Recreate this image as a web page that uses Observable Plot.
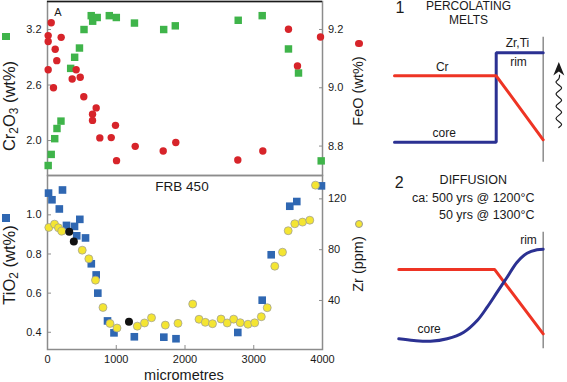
<!DOCTYPE html>
<html><head><meta charset="utf-8">
<script src="https://cdn.jsdelivr.net/npm/d3@7"></script>
<script src="https://cdn.jsdelivr.net/npm/@observablehq/plot@0.6"></script>
<style>
body{margin:0;background:#fff;}
#wrap{position:relative;width:567px;height:382px;overflow:hidden;background:#fff;font-family:"Liberation Sans",Arial,Helvetica,sans-serif;color:#1a1a1a;}
.t{position:absolute;white-space:nowrap;line-height:1;}
.t sub{font-size:0.72em;vertical-align:-0.25em;line-height:0;}
.mk{position:absolute;}
</style></head><body><div id="wrap"></div>
<script>
// ---------- data ----------
// Top panel: Cr2O3 (wt%), green squares, left axis
const crDist = [10,54,105,138,196,337,395,465,531,636,657,723,899,1001,1265,1690,1859,2774,3123,3505,3651,3981];
const crVal  = [1.73,1.85,2.02,2.13,2.21,2.78,2.90,3.00,3.20,3.35,3.29,3.33,3.35,3.33,3.27,3.20,3.24,3.30,3.35,2.99,2.73,1.78];
// Top panel: FeO (wt%), red circles, right axis
const feDist = [54,10,10,199,112,135,10,87,417,359,476,528,708,655,655,761,927,989,1004,1276,1683,1866,2768,3132,3505,3636,3971];
const feVal  = [9.223,9.179,9.159,9.173,9.132,9.093,9.062,9.000,9.062,9.030,9.036,8.969,8.931,8.909,8.888,8.828,8.829,8.871,8.750,8.799,8.783,8.812,8.752,8.783,9.201,9.075,9.174];
// Bottom panel: TiO2 (wt%), blue squares, left axis
const tiDist = [15,65,172,218,276,393,470,425,553,637,708,732,873,967,1263,1692,1869,2768,3123,3254,3524,3626,3985];
const tiVal  = [1.111,1.077,1.030,1.127,0.946,0.941,0.977,0.893,0.882,0.750,0.693,0.600,0.458,0.397,0.377,0.375,0.367,0.399,0.564,0.796,1.044,1.068,1.148];
// Bottom panel: Zr (ppm), yellow circles, right axis
const zrDist = [19,102,160,208,505,601,698,807,909,1011,1306,1411,1513,1714,1898,2112,2204,2295,2400,2524,2614,2708,2803,2916,3014,3110,3196,3306,3418,3501,3597,3709,3815,3898];
const zrVal  = [97.5,100.1,97.2,94.6,79.6,72.8,56.0,34.5,21.9,18.3,19.8,22.3,26.4,20.6,22.0,37.2,25.2,22.8,21.7,25.4,22.3,25.3,22.5,21.3,22.4,27.2,34.3,67.0,78.0,94.9,100.4,101.7,103.2,130.8];
// Bottom panel: black circles (Zr scale)
const blkDist = [316,383,1185];
const blkVal  = [94.1,86.5,23.2];

// axes
const xDomain = [0,4000];
const xTicks = [0,1000,2000,3000,4000];
const xInnerTicks = [1000,2000,3000];
const crDomain = [1.622,3.503], crTicks = [2.0,2.6,3.2];
const feDomain = [8.699,9.296], feTicks = [8.8,9.0,9.2];
const tiDomain = [0.312,1.201], tiTicks = [0.4,0.6,0.8,1.0];
const zrDomain = [1.4,138.4],  zrTicks = [40,80,120];

// schematic diagrams (position 0 = core .. 100 = rim, concentration 0..100)
const d1Blue = [{u:0,v:0},{u:68.4,v:0},{u:68.4,v:100},{u:100,v:100}];
const d1Red  = [{u:0,v:74.3},{u:68.4,v:74.3},{u:100,v:2.7}];
const d1Rim  = [{u:100,v1:-22.4,v2:117.4}];
const d1Labels = [{u:32.1,v:84.1,t:"Cr"},{u:33.4,v:10.5,t:"core"},{u:82.7,v:110.4,t:"Zr,Ti"},{u:83.4,v:90,t:"rim"}];
const d1Wave = [[110.5,16.4],[112.4,19.8],[110.5,23.2],[108.6,26.6],[110.5,30],[112.4,33.4],[110.5,36.8],[108.6,40.2],[110.5,43.6],[112.4,47],[110.5,50.4],[108.6,53.8],[110.5,57.2],[112.4,60.6],[110.5,64],[108.6,67.4],[110.5,70.8],[111,75]];
const d1Head = [{u:110.5,v:81.3}];
const d2Blue = [{u:0,v:1.9},{u:10.4,v:0},{u:21.9,v:-0.8},{u:33.5,v:1.9},{u:45,v:9.1},{u:54.3,v:21.9},{u:61.2,v:36.5},{u:68.1,v:52.9},{u:75,v:69.3},{u:81.9,v:85.8},{u:88.8,v:95.6},{u:95.7,v:99.3},{u:100,v:100}];
const d2Red  = [{u:0,v:77.8},{u:66.3,v:77.8},{u:100,v:7.3}];
const d2Rim  = [{u:100,v1:-9.1,v2:118.6}];
const d2Labels = [{u:89.8,v:109.5,t:"rim"},{u:21,v:12,t:"core"}];

// ---------- rendering ----------
const wrap = document.getElementById("wrap");
const FONT = '"Liberation Sans", Arial, Helvetica, sans-serif';
const AX = "#8c8c8c";
const zip = (a,b) => a.map((d,i)=>({d, v:b[i]}));
function addPlot(svg, left, top){
  svg.style.position="absolute"; svg.style.left=left+"px"; svg.style.top=top+"px";
  wrap.appendChild(svg);
}
const base = {width:567, height:382, style:{background:"transparent", fontFamily:FONT, fontSize:"11px", color:"#1a1a1a", overflow:"visible"}};
const topM = {marginLeft:47, marginRight:245, marginTop:1, marginBottom:207};
const botM = {marginLeft:47, marginRight:245, marginTop:175, marginBottom:33};

// top panel, left axis Cr2O3
addPlot(Plot.plot({...base, ...topM,
  x:{domain:xDomain, axis:null}, y:{domain:crDomain},
  marks:[
    Plot.frame({stroke:AX, strokeWidth:1.5}),
    Plot.ruleY([crDomain[1]], {stroke:"#1a1a1a", strokeWidth:1.5}),
    Plot.axisY(crTicks, {anchor:"left", tickSize:0, tickPadding:6, tickFormat:d3.format(".1f"), label:null}),
    Plot.axisY(crTicks, {anchor:"left", tickSize:4, dx:4, fill:"none", stroke:AX, label:null}),
    Plot.dot(zip(crDist,crVal), {x:"d", y:"v", symbol:"square", r:4.2, fill:"#3fb44a"})
  ]}), 0, 0);

// top panel, right axis FeO
addPlot(Plot.plot({...base, ...topM,
  x:{domain:xDomain, axis:null}, y:{domain:feDomain},
  marks:[
    Plot.axisY(feTicks, {anchor:"right", tickSize:0, tickPadding:5.5, tickFormat:d3.format(".1f"), label:null}),
    Plot.axisY(feTicks, {anchor:"right", tickSize:4, dx:-4, fill:"none", stroke:AX, label:null}),
    Plot.dot(zip(feDist,feVal), {x:"d", y:"v", r:3.7, fill:"#d7242a"})
  ]}), 0, 0);

// bottom panel, left axis TiO2
addPlot(Plot.plot({...base, ...botM,
  x:{domain:xDomain}, y:{domain:tiDomain},
  marks:[
    Plot.frame({stroke:AX, strokeWidth:1.5}),
    Plot.axisX(xTicks, {anchor:"bottom", tickSize:0, tickPadding:6, tickFormat:d3.format("d"), label:null}),
    Plot.axisX(xInnerTicks, {anchor:"bottom", tickSize:4, dy:-4, fill:"none", stroke:AX, label:null}),
    Plot.axisY(tiTicks, {anchor:"left", tickSize:0, tickPadding:6, tickFormat:d3.format(".1f"), label:null}),
    Plot.axisY(tiTicks, {anchor:"left", tickSize:4, dx:4, fill:"none", stroke:AX, label:null}),
    Plot.dot(zip(tiDist,tiVal), {x:"d", y:"v", symbol:"square", r:4.3, fill:"#2f67b2"})
  ]}), 0, 0);

// bottom panel, right axis Zr
addPlot(Plot.plot({...base, ...botM,
  x:{domain:xDomain, axis:null}, y:{domain:zrDomain},
  marks:[
    Plot.axisY(zrTicks, {anchor:"right", tickSize:0, tickPadding:5.5, tickFormat:d3.format("d"), label:null}),
    Plot.axisY(zrTicks, {anchor:"right", tickSize:4, dx:-4, fill:"none", stroke:AX, label:null}),
    Plot.dot(zip(zrDist,zrVal), {x:"d", y:"v", r:4, fill:"#f4e532", stroke:"#9a9a9a", strokeWidth:0.7}),
    Plot.dot(zip(blkDist,blkVal), {x:"d", y:"v", r:4, fill:"#111"})
  ]}), 0, 0);

// diagram 1
const arrowHead = {draw(ctx){ ctx.moveTo(0,-7.5); ctx.lineTo(5.5,6); ctx.lineTo(0,2); ctx.lineTo(-5.5,6); ctx.closePath(); }};
addPlot(Plot.plot({width:197, height:170, marginLeft:24, marginRight:24.3, marginTop:52.3, marginBottom:28.3,
  style:{background:"transparent", fontFamily:FONT, fontSize:"12px", color:"#1a1a1a", overflow:"visible"},
  x:{domain:[0,100], axis:null}, y:{domain:[0,100], axis:null},
  marks:[
    Plot.ruleX(d1Rim, {x:"u", y1:"v1", y2:"v2", stroke:AX, strokeWidth:1.5}),
    Plot.line(d1Blue, {x:"u", y:"v", stroke:"#2b3192", strokeWidth:3, strokeLinejoin:"miter"}),
    Plot.line(d1Red, {x:"u", y:"v", stroke:"#ee3424", strokeWidth:3, strokeLinejoin:"miter"}),
    Plot.text(d1Labels, {x:"u", y:"v", text:"t", fill:"#1a1a1a"}),
    Plot.line(d1Wave, {x:d=>d[0], y:d=>d[1], curve:"natural", stroke:"#1a1a1a", strokeWidth:1.2}),
    Plot.dot(d1Head, {x:"u", y:"v", symbol:arrowHead, fill:"#1a1a1a"})
  ]}), 370, 0);

// diagram 2
addPlot(Plot.plot({width:197, height:212, marginLeft:28.3, marginRight:24.3, marginTop:78.7, marginBottom:42,
  style:{background:"transparent", fontFamily:FONT, fontSize:"12px", color:"#1a1a1a", overflow:"visible"},
  x:{domain:[0,100], axis:null}, y:{domain:[0,100], axis:null},
  marks:[
    Plot.ruleX(d2Rim, {x:"u", y1:"v1", y2:"v2", stroke:AX, strokeWidth:1.5}),
    Plot.line(d2Red, {x:"u", y:"v", stroke:"#ee3424", strokeWidth:3, strokeLinejoin:"miter"}),
    Plot.line(d2Blue, {x:"u", y:"v", curve:"catmull-rom", stroke:"#2b3192", strokeWidth:3}),
    Plot.text(d2Labels, {x:"u", y:"v", text:"t", fill:"#1a1a1a"})
  ]}), 370, 170);

// ---------- text & legend markers ----------
function txt(html, x, y, size, opt={}){
  const el = document.createElement("div");
  el.className = "t"; el.innerHTML = html;
  el.style.left = x+"px"; el.style.top = y+"px"; el.style.fontSize = size+"px";
  const ax = opt.align === "right" ? "-100%" : opt.align === "left" ? "0" : "-50%";
  el.style.transform = `translate(${ax},-50%)` + (opt.rot ? " rotate(-90deg)" : "");
  wrap.appendChild(el);
}
function marker(x, y, shape, color, size, stroke){
  const el = document.createElement("div");
  el.className = "mk";
  el.style.left = (x - size/2)+"px"; el.style.top = (y - size/2)+"px";
  el.style.width = size+"px"; el.style.height = size+"px";
  el.style.background = color; el.style.boxSizing = "border-box";
  if (shape === "circle") el.style.borderRadius = "50%";
  if (stroke) el.style.border = "0.7px solid " + stroke;
  wrap.appendChild(el);
}
txt("Cr<sub>2</sub>O<sub>3</sub> (wt%)", 8.5, 106, 16.5, {rot:true});
txt("TiO<sub>2</sub> (wt%)", 9, 265, 16.5, {rot:true});
txt("FeO (wt%)", 357.5, 91, 14.5, {rot:true});
txt("Zr (ppm)", 358, 264, 14.5, {rot:true});
txt("micrometres", 184, 374.5, 14.5);
txt("A", 58, 12, 11);
txt("FRB 450", 182, 187, 13.5);
marker(6, 36.7, "square", "#3fb44a", 7.5);
marker(359, 43.3, "circle", "#d7242a", 7.5);
marker(6, 218, "square", "#2f67b2", 7.5);
marker(359, 224, "circle", "#f4e532", 8, "#9a9a9a");

txt("1", 400, 8, 16);
txt("PERCOLATING", 468.5, 6, 12);
txt("MELTS", 468.5, 19.8, 12);
txt("2", 399.3, 183, 16);
txt("DIFFUSION", 473.3, 179.8, 12.5);
txt("ca: 500 yrs @ 1200°C", 534.5, 198, 12.5, {align:"right"});
txt("50 yrs @ 1300°C", 534.5, 215.3, 12.5, {align:"right"});
</script></body></html>
